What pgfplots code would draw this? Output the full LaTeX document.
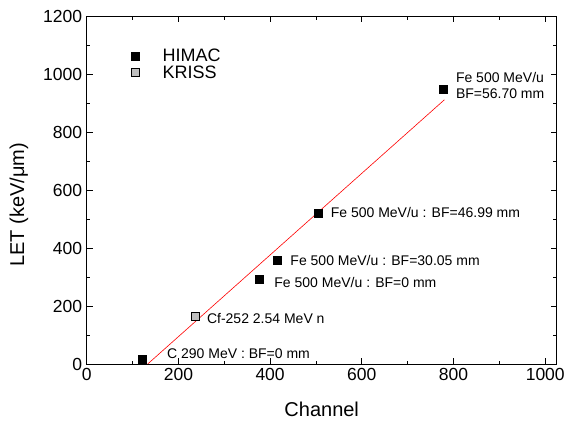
\documentclass[border=0pt]{standalone}
\usepackage{pgfplots}
\pgfplotsset{compat=1.18}
\usepackage{fontspec}
\setmainfont{Liberation Sans}
\pgfplotsset{legend image code/.code={\path[draw=none,fill=none] (0pt,-4pt) rectangle (38pt,4pt);\draw[mark repeat=2,mark phase=2,#1] plot coordinates {(0pt,0pt)(12pt,0pt)(24pt,0pt)};}}
\begin{document}
\begin{tikzpicture}
\begin{axis}[
  scale only axis,
  width=470pt, height=348pt,
  xmin=0, xmax=1025, ymin=0, ymax=1200,
  xtick={0,200,400,600,800,1000},
  ytick={0,200,400,600,800,1000,1200},
  minor x tick num=1, minor y tick num=1,
  tick align=inside,
  major tick length=6pt, minor tick length=3.5pt,
  axis line style={line width=0.9pt},
  every tick/.style={line width=0.8pt, black},
  /pgf/number format/assume math mode=true,
  /pgf/number format/1000 sep={},
  tick label style={font=\fontsize{17.5}{21}\selectfont},
  xticklabel style={yshift=-1pt},
  yticklabel style={xshift=-1pt},
  xlabel={Channel},
  ylabel={LET (keV/μm)},
  label style={font=\fontsize{20}{24}\selectfont},
  xlabel style={at={(axis description cs:0.5,-0.1514)}, anchor=base},
  ylabel style={at={(axis description cs:-0.144,0.457)}, anchor=center},
  clip=false,
  legend cell align=left,
  legend style={draw=none, fill=none, inner sep=0pt,
    at={(rel axis cs:0.077,0.911)}, anchor=north west,
    font=\fontsize{18}{21}\selectfont,
    nodes={inner sep=1.5pt}, row sep=0pt},
]
\addplot[only marks, mark=square*, mark size=4pt, mark options={fill=black, draw=black}]
  coordinates {(120,17) (376,292) (416,357) (504,520) (778,949)};
\addlegendentry{HIMAC}
\addplot[only marks, mark=square*, mark size=4pt, mark options={fill=black!25, draw=black, line width=0.6pt}]
  coordinates {(236,166)};
\addlegendentry{KRISS}
\addplot[red, line width=0.6pt, forget plot] coordinates {(133,0) (780,911)};
\begin{scope}[every node/.style={anchor=west, inner sep=0pt, font=\fontsize{14}{16.5}\selectfont}]
\node at (axis cs:805,960) [align=left] {Fe 500 MeV/u\\BF=56.70 mm};
\node at (axis cs:532,522) {Fe 500 MeV/u : BF=46.99 mm};
\node at (axis cs:444,357) {Fe 500 MeV/u : BF=30.05 mm};
\node at (axis cs:409,282) {Fe 500 MeV/u : BF=0 mm};
\node at (axis cs:262,157) {Cf-252 2.54 MeV n};
\node at (axis cs:175,34) {C 290 MeV : BF=0 mm};
\end{scope}
\end{axis}
\pgfresetboundingbox
\path (current axis.south west) ++(-86.7pt,-57pt) coordinate (bl);
\path (current axis.north east) ++(8.3pt,16pt) coordinate (tr);
\path (bl) rectangle (tr);
\end{tikzpicture}
\end{document}
